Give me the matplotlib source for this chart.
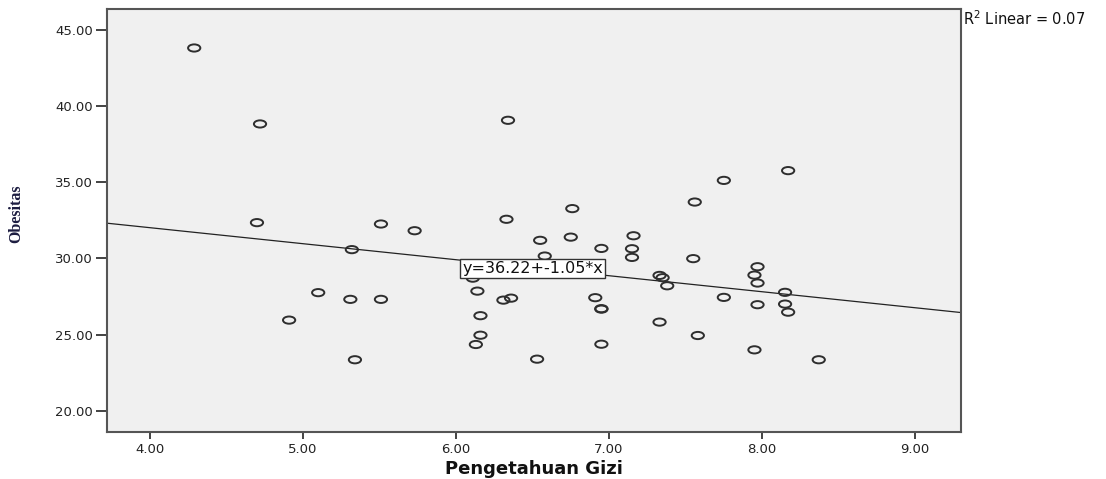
import matplotlib
matplotlib.use("Agg")
import matplotlib.pyplot as plt
import numpy as np
from matplotlib.path import Path
from matplotlib.transforms import Affine2D

# Pengetahuan Gizi (x) vs Obesitas (y)
pengetahuan = [4.29, 4.72, 4.70, 5.51, 5.73, 5.32, 5.10, 5.31, 5.51, 4.91,
               5.34, 6.11, 6.14, 6.16, 6.16, 6.13, 6.34, 7.75, 7.56, 6.76,
               6.33, 6.55, 6.75, 7.16, 6.95, 7.15, 7.15, 6.58, 7.55, 7.33,
               7.35, 7.38, 7.75, 6.31, 6.36, 6.91, 6.95, 6.95, 7.33, 7.58,
               6.95, 6.53, 8.17, 7.97, 7.95, 7.97, 8.15, 7.97, 8.15, 8.17,
               7.95, 8.37]
obesitas = [43.80, 38.82, 32.35, 32.26, 31.82, 30.58, 27.76, 27.32, 27.32, 25.96,
            23.36, 28.71, 27.86, 26.25, 24.97, 24.36, 39.06, 35.12, 33.70, 33.27,
            32.57, 31.19, 31.40, 31.49, 30.66, 30.64, 30.07, 30.16, 29.99, 28.89,
            28.74, 28.21, 27.45, 27.27, 27.40, 27.43, 26.71, 26.68, 25.83, 24.95,
            24.38, 23.40, 35.76, 29.46, 28.91, 28.39, 27.78, 26.97, 27.01, 26.48,
            24.01, 23.36]

# fit line as reported by SPSS
fit_intercept = 36.22
fit_slope = -1.05
r2_linear = 0.07

x_ticks = [4.0, 5.0, 6.0, 7.0, 8.0, 9.0]
y_ticks = [20.0, 25.0, 30.0, 35.0, 40.0, 45.0]

fig = plt.figure(figsize=(11.06, 4.79), dpi=100)
ax = fig.add_axes([0.0967, 0.098, 0.7723, 0.883])
ax.set_facecolor("#f0f0f0")

xlim = (3.72, 9.30)
ylim = (18.62, 46.35)

# slightly wide open circles (the SPSS export is stretched horizontally)
ellipse = Path.unit_circle().transformed(Affine2D().scale(1.7, 1.0))
ax.scatter(pengetahuan, obesitas, marker=ellipse, s=78, facecolors="none",
           edgecolors="#2e2e2e", linewidths=1.4, zorder=3)

xs = np.array(xlim)
ax.plot(xs, fit_intercept + fit_slope * xs, color="#222222", lw=0.9, zorder=2)

ax.text(6.50, 29.35, f"y={fit_intercept:.2f}+{fit_slope:.2f}*x",
        ha="center", va="center", fontsize=11.5, family="DejaVu Sans",
        color="#111111", zorder=4,
        bbox=dict(boxstyle="square,pad=0.12", fc="white", ec="#333333", lw=1.0))

ax.set_xlim(*xlim)
ax.set_ylim(*ylim)
ax.set_xticks(x_ticks)
ax.set_yticks(y_ticks)
ax.set_xticklabels([f"{v:.2f}" for v in x_ticks], fontsize=9.5, family="DejaVu Sans")
ax.set_yticklabels([f"{v:.2f}" for v in y_ticks], fontsize=9.5, family="DejaVu Sans")
ax.tick_params(axis="y", direction="out", length=8, width=1.2, pad=2, colors="#222222")
ax.tick_params(axis="x", direction="out", length=5, width=1.2, pad=3, colors="#222222")
for sp in ax.spines.values():
    sp.set_color("#555555")
    sp.set_linewidth(1.5)

fig.text(0.483, 0.02, "Pengetahuan Gizi", ha="center", va="center",
         fontsize=13, fontweight="bold", family="DejaVu Sans", color="#111111")
fig.text(0.015, 0.553, "Obesitas", rotation=90, ha="center", va="center",
         fontsize=11.5, fontweight="bold", family="Liberation Serif", color="#1c1c40")

fig.text(0.871, 0.962, f"R$^2$ Linear = {r2_linear:.2f}", ha="left", va="center",
         fontsize=10.5, family="DejaVu Sans", color="#111111")

fig.savefig("out.png", dpi=100)
